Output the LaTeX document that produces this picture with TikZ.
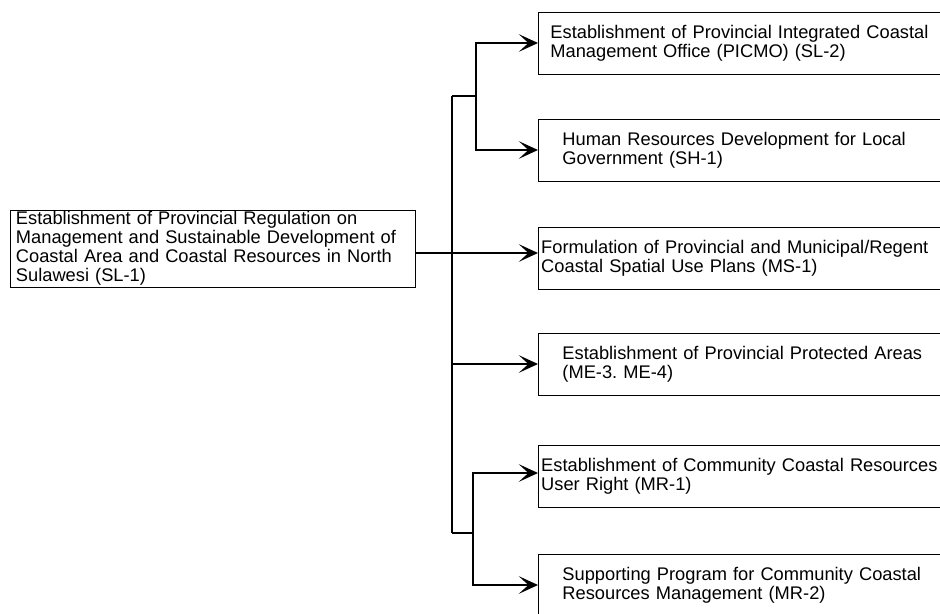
\documentclass[tikz,border=0pt]{standalone}
\usepackage{fontspec}
\setmainfont{Liberation Sans}
\usetikzlibrary{arrows.meta}

\tikzset{
	box/.style={draw, line width=0.6pt, rectangle, align=left, inner ysep=0pt,
		font=\fontsize{13}{13.4}\selectfont},
	goal/.style={box, anchor=west, text width=10.6cm, minimum height=1.55cm, inner xsep=#1},
	goal/.default=0.07cm,
	link/.style={line width=0.9pt, -{Stealth[length=0.48cm,width=0.44cm,inset=0.24cm]}},
	trunk/.style={line width=1.2pt},
}

\begin{document}
\begin{tikzpicture}[x=0.025cm, y=-0.025cm]
	\useasboundingbox (0,0) rectangle (940,613);
	\clip (0,0) rectangle (940,613);

	%regulation
	\node[box, text width=9.825cm, inner xsep=0.15cm, minimum height=1.925cm] (reg) at (212.5,248.5)
		{Establishment of Provincial Regulation on\\
		 Management and Sustainable Development of\\
		 Coastal Area and Coastal Resources in North\\
		 Sulawesi (SL-1)};

	%programs
	\node[goal=0.3cm]	(b1) at (538,43)	{Establishment of Provincial Integrated Coastal\\ Management Office (PICMO) (SL-2)};
	\node[goal=0.6cm]	(b2) at (538,150)	{Human Resources Development for Local\\ Government (SH-1)};
	\node[goal]			(b3) at (538,258)	{Formulation of Provincial and Municipal/Regent\\ Coastal Spatial Use Plans (MS-1)};
	\node[goal=0.6cm]	(b4) at (538,364)	{Establishment of Provincial Protected Areas\\ (ME-3.\ ME-4)};
	\node[goal]			(b5) at (538,476)	{Establishment of Community Coastal Resources\\ User Right (MR-1)};
	\node[goal=0.6cm]	(b6) at (538,585)	{Supporting Program for Community Coastal\\ Resources Management (MR-2)};

	%forks
	\coordinate (top)		at (452,96);
	\coordinate (bot)		at (452,533);
	\coordinate (upfork)	at (476,96);
	\coordinate (lowfork)	at (473,533);

	%connectors
	\draw[trunk]	(top) -- (bot);
	\draw[link]		(reg.east |- 0,253) -- (b3.west |- 0,253);
	\draw[link]		(top) -- (upfork) |- (b1.west);
	\draw[link]		(upfork) |- (b2.west);
	\draw[link]		(top |- b4.west) -- (b4.west);
	\draw[link]		(bot) -- (lowfork) |- ([yshift=0.075cm]b5.west);
	\draw[link]		(lowfork) |- (b6.west);
\end{tikzpicture}
\end{document}
